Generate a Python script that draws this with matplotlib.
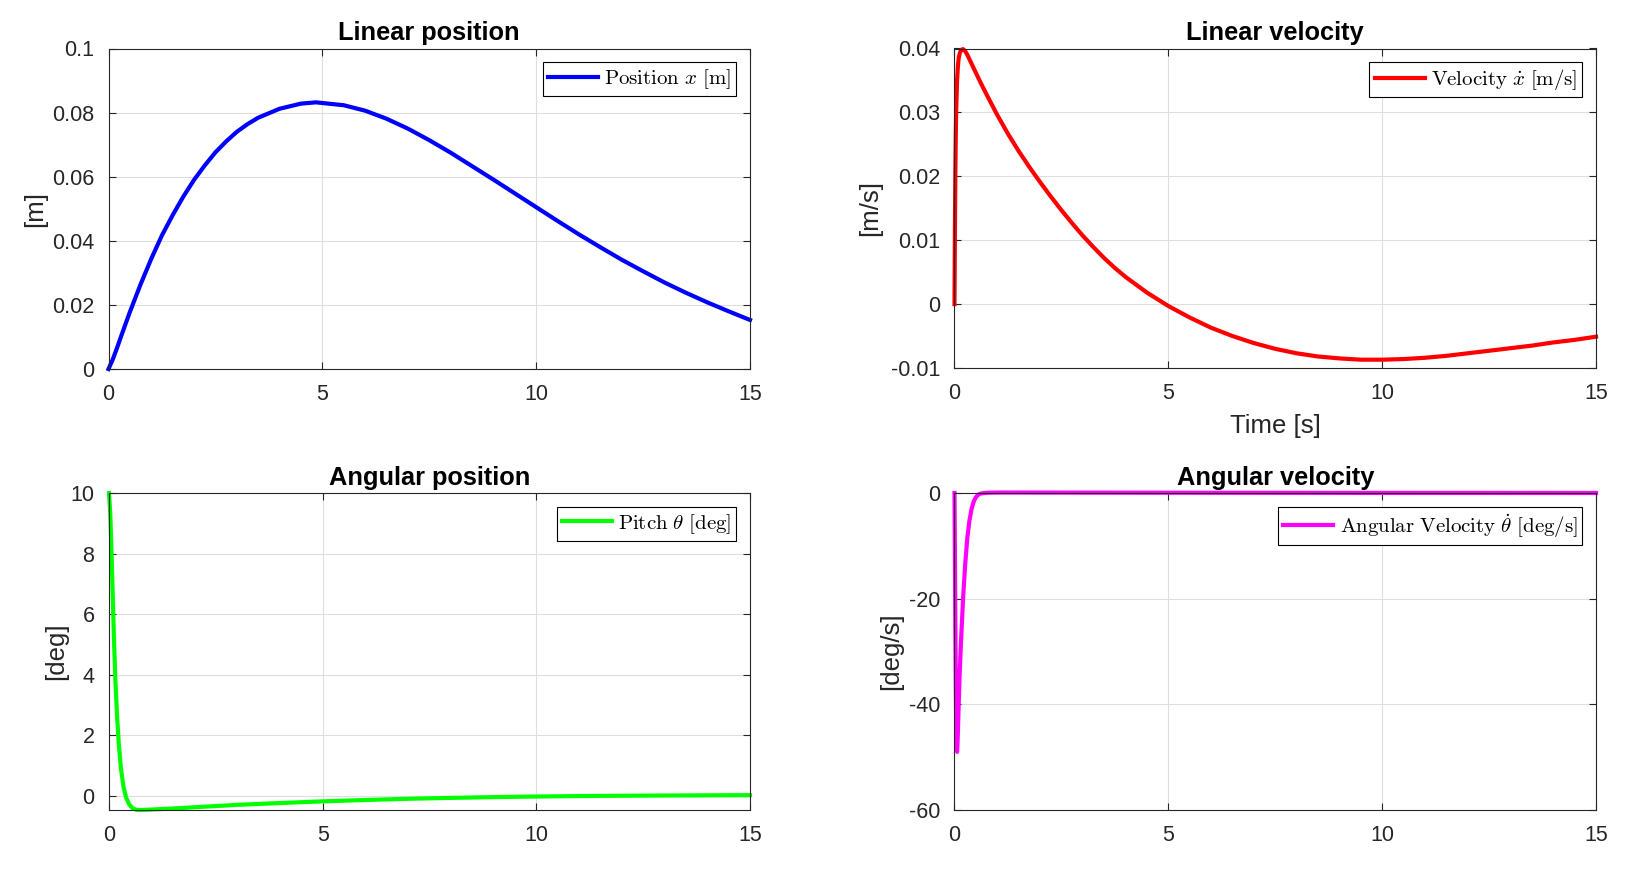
import numpy as np
import matplotlib
matplotlib.use("Agg")
import matplotlib.pyplot as plt

plt.rcParams['font.family'] = ['Liberation Sans', 'DejaVu Sans']
plt.rcParams['mathtext.fontset'] = 'cm'

# values
t_pos = [0, 0.1, 0.2, 0.3, 0.4, 0.5, 0.75, 1.0, 1.25, 1.5, 1.75, 2.0, 2.25, 2.5,
         2.75, 3.0, 3.25, 3.5, 4.0, 4.5, 4.85, 5.5, 6.0, 6.5, 7.0, 7.5, 8.0, 8.5,
         9.0, 9.5, 10.0, 10.5, 11.0, 11.5, 12.0, 12.5, 13.0, 13.5, 14.0, 14.5, 15.0]
x_pos = [0, 0.0030, 0.0066, 0.0104, 0.0141, 0.0178, 0.0264, 0.0344, 0.0417,
         0.0480, 0.0538, 0.0590, 0.0635, 0.0676, 0.0710, 0.0740, 0.0764, 0.0784,
         0.0812, 0.0828, 0.0832, 0.0823, 0.0806, 0.0781, 0.0750, 0.0714, 0.0675,
         0.0633, 0.0591, 0.0548, 0.0505, 0.0462, 0.0420, 0.0380, 0.0341, 0.0305,
         0.0270, 0.0238, 0.0208, 0.0180, 0.0153]

t_vel = [0, 0.005, 0.01, 0.02, 0.03, 0.04, 0.06, 0.08, 0.1, 0.13, 0.16, 0.2, 0.25,
         0.3, 0.4, 0.5, 0.6, 0.75, 1.0, 1.25, 1.5, 1.75, 2.0, 2.25, 2.5, 2.75, 3.0,
         3.25, 3.5, 3.75, 4.0, 4.5, 5.0, 5.5, 6.0, 6.5, 7.0, 7.5, 8.0, 8.5, 9.0,
         9.5, 10.0, 10.5, 11.0, 11.5, 12.0, 12.5, 13.0, 13.5, 14.0, 14.5, 15.0]
x_vel = [0, 0.006, 0.0115, 0.0205, 0.0265, 0.0305, 0.0350, 0.0373, 0.0386, 0.0394,
         0.0398, 0.0399, 0.0396, 0.0390, 0.0376, 0.0362, 0.0348, 0.0328, 0.0296,
         0.02665, 0.02395, 0.02145, 0.0191, 0.01685, 0.0147, 0.01265, 0.0107,
         0.0089, 0.0072, 0.00565, 0.00425, 0.0018, -0.0003, -0.0021, -0.0037,
         -0.0050, -0.0061, -0.0070, -0.0077, -0.0082, -0.0085, -0.0087, -0.0087,
         -0.0086, -0.0084, -0.0081, -0.0077, -0.0073, -0.0069, -0.0065, -0.0060,
         -0.0056, -0.0051]

t_pitch = [0, 0.03, 0.06, 0.09, 0.12, 0.15, 0.19, 0.23, 0.28, 0.34, 0.4, 0.47, 0.55,
           0.63, 0.72, 0.85, 1.0, 1.5, 2.0, 2.5, 3, 4, 5, 6, 7, 8, 9, 10, 11, 12,
           13, 14, 15]
pitch = [10.0, 9.3, 8.0, 6.5, 5.0, 3.8, 2.6, 1.7, 0.9, 0.3, -0.05, -0.27, -0.4,
         -0.45, -0.46, -0.455, -0.445, -0.41, -0.37, -0.33, -0.29, -0.23, -0.175,
         -0.13, -0.09, -0.06, -0.035, -0.015, 0.0, 0.01, 0.018, 0.024, 0.03]

t_rate = [0, 0.01, 0.02, 0.03, 0.04, 0.05, 0.06, 0.07, 0.08, 0.1, 0.12, 0.15, 0.2,
          0.25, 0.3, 0.35, 0.4, 0.45, 0.5, 0.55, 0.6, 0.7, 0.8, 1, 1.5, 2, 3, 5,
          8, 10, 15]
rate = [0, -12, -25, -36, -44, -48, -49, -47.5, -45, -39.5, -34.5, -28.5, -20,
        -13.5, -8.5, -5.2, -3.0, -1.6, -0.8, -0.35, -0.12, 0.0, 0.05, 0.09, 0.085,
        0.08, 0.07, 0.05, 0.03, 0.018, 0.006]

x_ticks = [0, 5, 10, 15]
pos_ticks = [0, 0.02, 0.04, 0.06, 0.08, 0.1]
pos_labels = ['0', '0.02', '0.04', '0.06', '0.08', '0.1']
vel_ticks = [-0.01, 0, 0.01, 0.02, 0.03, 0.04]
vel_labels = ['-0.01', '0', '0.01', '0.02', '0.03', '0.04']
pitch_ticks = [0, 2, 4, 6, 8, 10]
pitch_labels = ['0', '2', '4', '6', '8', '10']
rate_ticks = [-60, -40, -20, 0]
rate_labels = ['-60', '-40', '-20', '0']

W, H = 1652, 877
fig = plt.figure(figsize=(W / 100, H / 100), dpi=100)

def make_axes(l, t, r, b):
    return fig.add_axes([l / W, 1 - b / H, (r - l) / W, (b - t) / H])

ax1 = make_axes(108.5, 48.5, 750, 369)
ax2 = make_axes(954.5, 48.5, 1596, 368)
ax3 = make_axes(109, 493, 750, 810)
ax4 = make_axes(954.5, 493, 1596, 810)

dark = '#262626'

def style(ax, title, ylabel, yticks, ylabels, ylim, ylab_x):
    ax.set_xlim(0, 15)
    ax.set_ylim(*ylim)
    ax.set_xticks(x_ticks, labels=[str(v) for v in x_ticks])
    ax.set_yticks(yticks, labels=ylabels)
    ax.grid(True, color='#dedede', linewidth=0.8)
    ax.set_axisbelow(True)
    ax.tick_params(direction='in', top=True, right=True, length=5, width=0.8,
                   colors=dark, labelsize=15.5)
    ax.tick_params(axis='x', pad=11)
    ax.tick_params(axis='y', pad=10.5)
    for s in ax.spines.values():
        s.set_color(dark)
        s.set_linewidth(0.8)
    ax.set_title(title, fontsize=18.3, fontweight='bold', pad=6)
    ax.set_ylabel(ylabel, fontsize=18.5, color=dark)
    ax.yaxis.set_label_coords(ylab_x, 0.5)
    ax.legend(loc='upper right', fontsize=15, frameon=True, fancybox=False,
              edgecolor='black', framealpha=1, borderpad=0.25, handlelength=2.4,
              handletextpad=0.3, borderaxespad=0.65)
    ax.get_legend().get_frame().set_linewidth(0.8)

ax1.plot(t_pos, x_pos, color='#0000ff', lw=3, clip_on=False,
         label=r'$\mathrm{Position}\ x\ \mathrm{[m]}$')
style(ax1, 'Linear position', '[m]', pos_ticks, pos_labels, (0, 0.1), -0.096)

ax2.plot(t_vel, x_vel, color='#ff0000', lw=3, clip_on=False,
         label=r'$\mathrm{Velocity}\ \dot{x}\ \mathrm{[m/s]}$')
style(ax2, 'Linear velocity', '[m/s]', vel_ticks, vel_labels, (-0.01, 0.04), -0.113)
ax2.set_xlabel('Time [s]', fontsize=18.5, color=dark, labelpad=7)

ax3.plot(t_pitch, pitch, color='#00ff00', lw=3, clip_on=False,
         label=r'$\mathrm{Pitch}\ \theta\ \mathrm{[deg]}$')
style(ax3, 'Angular position', '[deg]', pitch_ticks, pitch_labels, (-0.46, 10), -0.064)

ax4.plot(t_rate, rate, color='#ff00ff', lw=3, clip_on=False,
         label=r'$\mathrm{Angular\ Velocity}\ \dot{\theta}\ \mathrm{[deg/s]}$')
style(ax4, 'Angular velocity', '[deg/s]', rate_ticks, rate_labels, (-60, 0), -0.080)

fig.savefig('out.png', dpi=100, facecolor='white')
